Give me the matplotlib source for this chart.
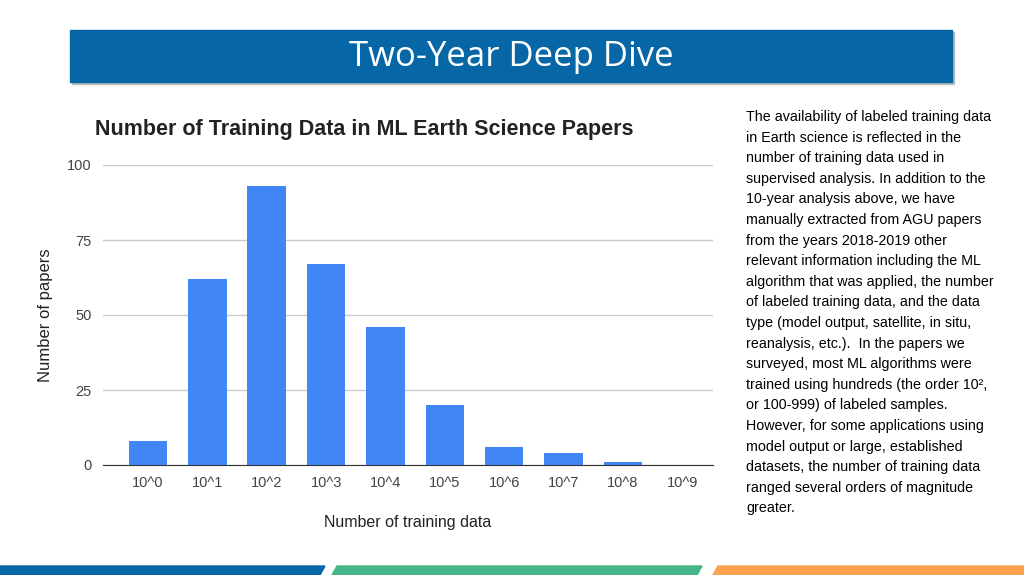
import matplotlib
matplotlib.use("Agg")
import matplotlib.pyplot as plt
from matplotlib.patches import Rectangle, Polygon

labels = ["10^0", "10^1", "10^2", "10^3", "10^4", "10^5", "10^6", "10^7", "10^8", "10^9"]
papers = [8, 62, 93, 67, 46, 20, 6, 4, 1, 0]
yticks = [0, 25, 50, 75, 100]

body = ("The availability of labeled training data\nin Earth science is reflected in the\n"
        "number of training data used in\nsupervised analysis. In addition to the\n"
        "10-year analysis above, we have\nmanually extracted from AGU papers\n"
        "from the years 2018-2019 other\nrelevant information including the ML\n"
        "algorithm that was applied, the number\nof labeled training data, and the data\n"
        "type (model output, satellite, in situ,\nreanalysis, etc.).  In the papers we\n"
        "surveyed, most ML algorithms were\ntrained using hundreds (the order 10\u00b2,\n"
        "or 100-999) of labeled samples.\nHowever, for some applications using\n"
        "model output or large, established\ndatasets, the number of training data\n"
        "ranged several orders of magnitude\ngreater.")

plt.rcParams["font.family"] = ["Liberation Sans", "DejaVu Sans"]
fig = plt.figure(figsize=(10.24, 5.75), dpi=100)

# slide decorations
fig.patches.append(Rectangle((72 / 1024, 1 - 84 / 575), 882 / 1024, 52 / 575,
                             transform=fig.transFigure, color="#bbbbbb"))
fig.patches.append(Rectangle((70 / 1024, 1 - 82 / 575), 882 / 1024, 52 / 575,
                             transform=fig.transFigure, color="#0767a6"))
fig.text(511 / 1024, 1 - 57 / 575, "Two-Year Deep Dive", color="white", fontsize=25,
         ha="center", va="center", family=["Open Sans", "DejaVu Sans"])
y0, y1 = 1 - 575 / 575, 1 - 566 / 575
for xs, c in [((0, 325), "#0767a6"), ((332, 702), "#45b487"), ((713, 1030), "#fba150")]:
    pts = [(xs[0] / 1024, y0), ((xs[1] - 5) / 1024, y0), (xs[1] / 1024, y1),
           ((xs[0] + 5 if xs[0] else 0) / 1024, y1)]
    fig.patches.append(Polygon(pts, closed=True, transform=fig.transFigure, color=c))

fig.text(746 / 1024, 1 - 110 / 575, body, fontsize=10.3, va="top", ha="left", linespacing=1.6)

ax = fig.add_axes([103 / 1024, 110 / 575, 610 / 1024, 300 / 575])
x = range(len(labels))
ax.bar(x, papers, width=0.65, color="#4285f4", zorder=3)
ax.set_xticks(list(x))
ax.set_xticklabels(labels, fontsize=10.5, color="#444444")
ax.set_yticks(yticks)
ax.tick_params(axis="y", labelsize=10.5, labelcolor="#444444", length=0, pad=8)
ax.tick_params(axis="x", length=0, pad=8)
ax.set_ylim(0, 100)
ax.set_xlim(-0.76, 9.52)
ax.grid(axis="y", color="#cccccc", linewidth=1, zorder=0)
for s in ["top", "right", "left"]:
    ax.spines[s].set_visible(False)
ax.spines["bottom"].set_color("#333333")
ax.set_ylabel("Number of papers", fontsize=12, labelpad=10, color="#222222")
ax.set_xlabel("Number of training data", fontsize=11.5, labelpad=18, color="#222222")
fig.text(95 / 1024, 1 - 130 / 575, "Number of Training Data in ML Earth Science Papers",
         fontsize=15.5, fontweight="bold", va="center", ha="left", color="#222222")

fig.savefig("out.png", dpi=100)
